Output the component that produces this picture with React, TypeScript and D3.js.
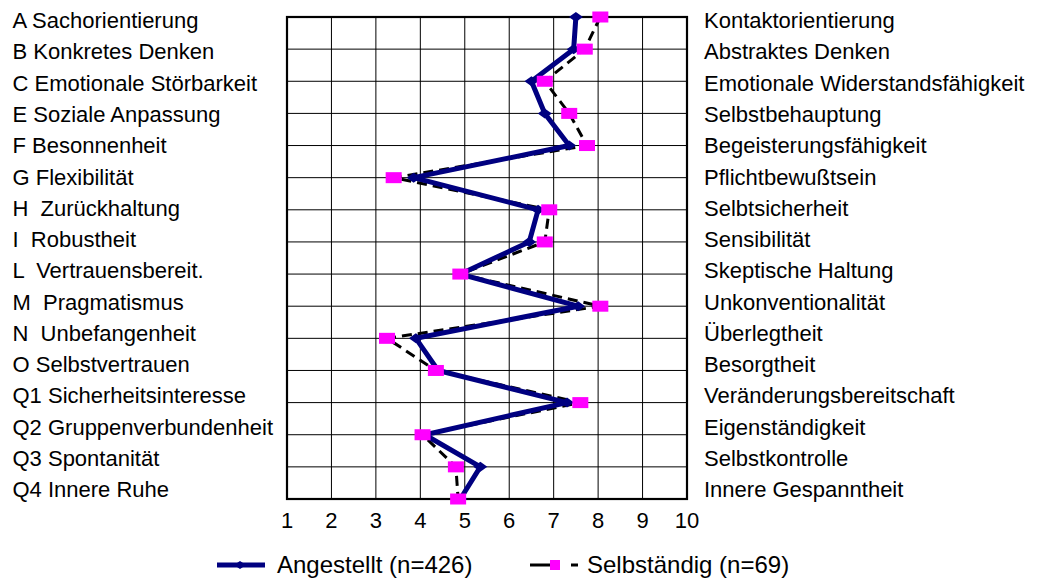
import React from "react";
import * as d3 from "d3";

const leftLabels = [
  "A Sachorientierung",
  "B Konkretes Denken",
  "C Emotionale Störbarkeit",
  "E Soziale Anpassung",
  "F Besonnenheit",
  "G Flexibilität",
  "H  Zurückhaltung",
  "I  Robustheit",
  "L  Vertrauensbereit.",
  "M  Pragmatismus",
  "N  Unbefangenheit",
  "O Selbstvertrauen",
  "Q1 Sicherheitsinteresse",
  "Q2 Gruppenverbundenheit",
  "Q3 Spontanität",
  "Q4 Innere Ruhe",
];

const rightLabels = [
  "Kontaktorientierung",
  "Abstraktes Denken",
  "Emotionale Widerstandsfähigkeit",
  "Selbstbehauptung",
  "Begeisterungsfähigkeit",
  "Pflichtbewußtsein",
  "Selbtsicherheit",
  "Sensibilität",
  "Skeptische Haltung",
  "Unkonventionalität",
  "Überlegtheit",
  "Besorgtheit",
  "Veränderungsbereitschaft",
  "Eigenständigkeit",
  "Selbstkontrolle",
  "Innere Gespanntheit",
];

const angestellt = [7.5, 7.45, 6.5, 6.8, 7.35, 3.85, 6.65, 6.45, 4.9, 7.55, 3.9, 4.4, 7.3, 4.1, 5.35, 4.9];
const selbstaendig = [8.05, 7.7, 6.8, 7.35, 7.75, 3.4, 6.9, 6.8, 4.9, 8.05, 3.25, 4.35, 7.6, 4.05, 4.8, 4.85];

const xTicks = [1, 2, 3, 4, 5, 6, 7, 8, 9, 10];
const seriesNames = ["Angestellt (n=426)", "Selbständig (n=69)"];

const FONT = "'Liberation Sans', Arial, sans-serif";
const NAVY = "#000080";
const PINK = "#FF00FF";

export default function App() {
  const W = 1037;
  const H = 580;
  const x = d3.scaleLinear().domain([1, 10]).range([287, 687]);
  const idx = leftLabels.map((_, i) => i);
  const y = d3.scalePoint<number>().domain(idx).range([17, 499]);
  const yLab = d3.scalePoint<number>().domain(idx).range([20.5, 489.5]);

  const line = d3
    .line<number>()
    .x((d) => x(d))
    .y((_, i) => y(i) as number);

  const diamond = "M0,-5 L7,0 L0,5 L-7,0 Z";

  return (
    <svg
      width={W}
      height={H}
      style={{ position: "absolute", left: 0, top: 0, background: "#fff" }}
      fontFamily={FONT}
    >
      <rect x={0} y={0} width={W} height={H} fill="#fff" />
      {/* grid */}
      <g stroke="#000" strokeWidth={1}>
        {xTicks.map((t) => (
          <line key={"v" + t} x1={x(t)} x2={x(t)} y1={y(0)} y2={y(15)} />
        ))}
        {idx.map((i) => (
          <line key={"h" + i} x1={x(1)} x2={x(10)} y1={y(i)} y2={y(i)} />
        ))}
      </g>
      <rect
        x={x(1)}
        y={y(0)}
        width={x(10) - x(1)}
        height={(y(15) as number) - (y(0) as number)}
        fill="none"
        stroke="#000"
        strokeWidth={2.2}
      />
      {/* x tick labels */}
      {xTicks.map((t) => (
        <text key={"xt" + t} x={x(t)} y={520} dy="0.35em" textAnchor="middle" fontSize={22} fill="#000">
          {t}
        </text>
      ))}
      {/* left labels */}
      {leftLabels.map((l, i) => (
        <text key={"l" + i} x={12.5} y={yLab(i)} dy="0.35em" fontSize={22} fill="#000" style={{ whiteSpace: "pre" }}>
          {l}
        </text>
      ))}
      {/* right labels */}
      {rightLabels.map((l, i) => (
        <text key={"r" + i} x={704} y={yLab(i)} dy="0.35em" fontSize={22} fill="#000" style={{ whiteSpace: "pre" }}>
          {l}
        </text>
      ))}
      {/* series lines */}
      <path d={line(selbstaendig) || ""} fill="none" stroke="#000" strokeWidth={3} strokeDasharray="10,6" />
      <path d={line(angestellt) || ""} fill="none" stroke={NAVY} strokeWidth={5} strokeLinejoin="miter" />
      {angestellt.map((v, i) => (
        <path key={"d" + i} d={diamond} transform={`translate(${x(v)},${y(i)})`} fill={NAVY} />
      ))}
      {selbstaendig.map((v, i) => (
        <rect key={"s" + i} x={x(v) - 8} y={(y(i) as number) - 5.5} width={16} height={11} fill={PINK} />
      ))}
      {/* legend */}
      <g>
        <line x1={217} x2={265} y1={565} y2={565} stroke={NAVY} strokeWidth={5} />
        <path d="M0,-4 L6,0 L0,4 L-6,0 Z" transform="translate(240,565)" fill={NAVY} />
        <text x={277} y={565} dy="0.35em" fontSize={24} fill="#000">
          {seriesNames[0]}
        </text>
        <line x1={530} x2={556} y1={565} y2={565} stroke="#000" strokeWidth={3} />
        <line x1={571} x2={578} y1={565} y2={565} stroke="#000" strokeWidth={3} />
        <rect x={550} y={560} width={10} height={10} fill={PINK} />
        <text x={587} y={565} dy="0.35em" fontSize={24} fill="#000">
          {seriesNames[1]}
        </text>
      </g>
    </svg>
  );
}
